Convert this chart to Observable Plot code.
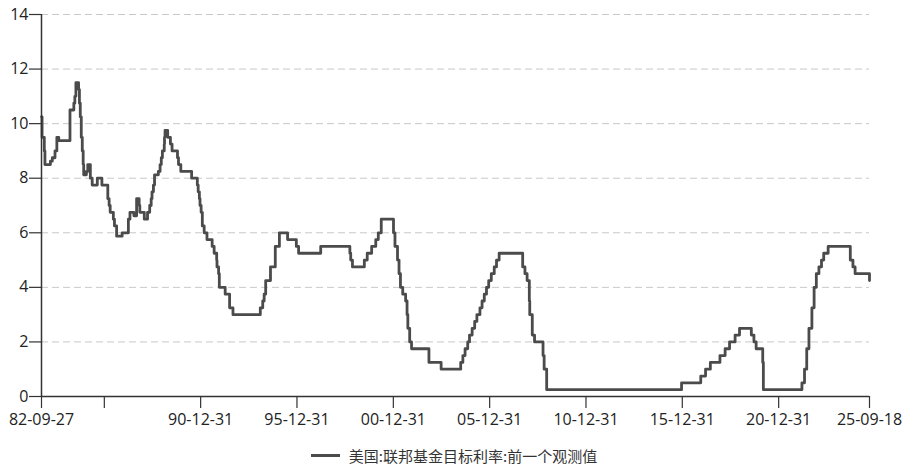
<!DOCTYPE html>
<html><head><meta charset="utf-8">
<script src="https://cdn.jsdelivr.net/npm/d3@7"></script>
<script src="https://cdn.jsdelivr.net/npm/@observablehq/plot@0.6"></script>
<style>
html,body{margin:0;padding:0;background:#fff;}
#chart{width:908px;}
.legend{display:flex;justify-content:center;align-items:center;height:30px;padding-top:5px;font-family:"Noto Sans CJK SC","Noto Sans",sans-serif;font-size:15px;color:#333;}
.sw{width:29px;height:3px;background:#4b4b4b;margin-right:9px;}
</style></head><body><div id="chart"></div>
<script>
const seriesName = "美国:联邦基金目标利率:前一个观测值";
const dates = [
"1982-09-27","1982-10-08","1982-11-19","1982-12-01","1983-03-15","1983-04-20","1983-06-10","1983-07-15","1983-08-20",
"1984-03-20","1984-06-01","1984-06-20","1984-07-10","1984-08-30","1984-09-15","1984-10-01","1984-10-20","1984-11-08","1984-11-25","1984-12-05",
"1985-01-25","1985-02-20","1985-04-10","1985-05-15","1985-08-20","1985-11-15",
"1986-03-07","1986-04-01","1986-04-21","1986-06-20","1986-07-11","1986-08-21","1986-12-04",
"1987-04-01","1987-05-01","1987-07-15","1987-09-04","1987-10-22","1987-11-04",
"1988-01-28","1988-03-29","1988-05-09","1988-06-06","1988-06-22","1988-07-19","1988-08-09","1988-10-20","1988-11-22","1988-12-15",
"1989-01-05","1989-02-09","1989-02-14","1989-02-24","1989-04-15","1989-06-06","1989-07-07","1989-10-18","1989-11-06","1989-12-20",
"1990-07-13","1990-10-29","1990-11-14","1990-12-07","1990-12-19",
"1991-01-09","1991-02-01","1991-03-08","1991-04-30","1991-08-06","1991-09-13","1991-10-31","1991-11-06","1991-12-06","1991-12-20",
"1992-04-09","1992-07-02","1992-09-04",
"1994-02-04","1994-03-22","1994-04-18","1994-05-17","1994-08-16","1994-11-15",
"1995-02-01","1995-07-06","1995-12-19","1996-01-31","1997-03-25",
"1998-09-29","1998-10-15","1998-11-17","1999-06-30","1999-08-24","1999-11-16",
"2000-02-02","2000-03-21","2000-05-16",
"2001-01-03","2001-01-31","2001-03-20","2001-04-18","2001-05-15","2001-06-27","2001-08-21","2001-09-17","2001-10-02","2001-11-06","2001-12-11",
"2002-11-06","2003-06-25",
"2004-06-30","2004-08-10","2004-09-21","2004-11-10","2004-12-14",
"2005-02-02","2005-03-22","2005-05-03","2005-06-30","2005-08-09","2005-09-20","2005-11-01","2005-12-13",
"2006-01-31","2006-03-28","2006-05-10","2006-06-29",
"2007-09-18","2007-10-31","2007-12-11",
"2008-01-22","2008-01-30","2008-03-18","2008-04-30","2008-10-08","2008-10-29","2008-12-16",
"2015-12-17","2016-12-15","2017-03-16","2017-06-15","2017-12-14",
"2018-03-22","2018-06-14","2018-09-27","2018-12-20",
"2019-08-01","2019-09-19","2019-10-31","2020-03-04","2020-03-16",
"2022-03-17","2022-05-05","2022-06-16","2022-07-28","2022-09-22","2022-11-03","2022-12-15",
"2023-02-02","2023-03-23","2023-05-04","2023-07-27",
"2024-09-19","2024-11-08","2024-12-19","2025-09-18"
];
const rates = [
10.25,9.5,9.0,8.5,8.625,8.75,9.0,9.5,9.375,
10.5,10.75,11.0,11.5,11.25,10.75,10.25,9.5,9.0,8.5,8.125,
8.25,8.5,8.0,7.75,8.0,7.75,
7.25,7.0,6.75,6.5,6.25,5.875,6.0,
6.5,6.75,6.625,7.25,7.0,6.75,
6.5,6.75,7.0,7.25,7.5,7.75,8.125,8.25,8.5,8.75,
9.0,9.25,9.5,9.75,9.5,9.25,9.0,8.75,8.5,8.25,
8.0,7.75,7.5,7.25,7.0,
6.75,6.25,6.0,5.75,5.5,5.25,5.0,4.75,4.5,4.0,
3.75,3.25,3.0,
3.25,3.5,3.75,4.25,4.75,5.5,
6.0,5.75,5.5,5.25,5.5,
5.25,5.0,4.75,5.0,5.25,5.5,
5.75,6.0,6.5,
6.0,5.5,5.0,4.5,4.0,3.75,3.5,3.0,2.5,2.0,1.75,
1.25,1.0,
1.25,1.5,1.75,2.0,2.25,
2.5,2.75,3.0,3.25,3.5,3.75,4.0,4.25,
4.5,4.75,5.0,5.25,
4.75,4.5,4.25,
3.5,3.0,2.25,2.0,1.5,1.0,0.25,
0.5,0.75,1.0,1.25,1.5,
1.75,2.0,2.25,2.5,
2.25,2.0,1.75,1.25,0.25,
0.5,1.0,1.75,2.5,3.25,4.0,4.5,
4.75,5.0,5.25,5.5,
5.0,4.75,4.5,4.25
];
const xTickDates = ["1982-09-27","1985-12-31","1990-12-31","1995-12-31","2000-12-31","2005-12-31","2010-12-31","2015-12-31","2020-12-31","2025-09-18"];
const xTickLabels = ["82-09-27","","90-12-31","95-12-31","00-12-31","05-12-31","10-12-31","15-12-31","20-12-31","25-09-18"];
const yTicks = [0,2,4,6,8,10,12,14];

const parse = d3.utcParse("%Y-%m-%d");
const data = dates.map((d,i) => ({date: parse(d), value: rates[i]}));
const tickDates = xTickDates.map(parse);
const labelMap = new Map(tickDates.map((d,i) => [+d, xTickLabels[i]]));
const x0 = tickDates[0], x1 = tickDates[tickDates.length-1];

const chart = Plot.plot({
  width: 908,
  height: 435,
  marginLeft: 41,
  marginRight: 39,
  marginTop: 14,
  marginBottom: 39,
  style: {fontFamily: "'Open Sans','Noto Sans CJK SC',sans-serif", fontSize: "16px", color: "#222", background: "#fff", overflow: "visible"},
  x: {type: "utc", domain: [x0, x1]},
  y: {domain: [0, 14]},
  marks: [
    Plot.ruleY(yTicks.filter(v => v > 0), {stroke: "#c8c8c8", strokeWidth: 1, strokeDasharray: "7,4"}),
    Plot.axisY({ticks: yTicks, tickSize: 12, tickPadding: 1, tickFormat: d => String(d), label: null, stroke: "#333", strokeWidth: 1.2, fill: "#222"}),
    Plot.axisX({ticks: tickDates, tickSize: 12, tickPadding: 5, tickFormat: d => labelMap.get(+d) ?? "", label: null, stroke: "#333", strokeWidth: 1.2, fill: "#222"}),
    Plot.lineY(data, {x: "date", y: "value", curve: "step-after", stroke: "#4b4b4b", strokeWidth: 2.8, strokeLinejoin: "round"}),
    Plot.ruleX([x0], {stroke: "#333", strokeWidth: 1.5}),
    Plot.ruleY([0], {stroke: "#333", strokeWidth: 1.5})
  ]
});
document.getElementById("chart").appendChild(chart);
const lg = document.createElement("div");
lg.className = "legend";
lg.innerHTML = '<div class="sw"></div><span></span>';
lg.querySelector("span").textContent = seriesName;
document.getElementById("chart").appendChild(lg);
</script>
</body></html>
